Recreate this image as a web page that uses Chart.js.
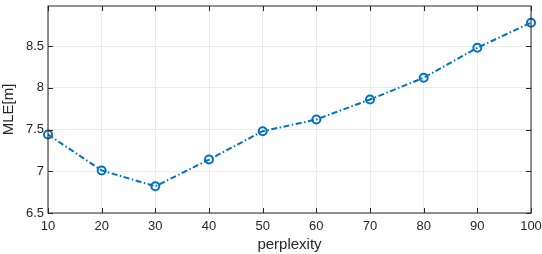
<!DOCTYPE html>
<html>
<head>
<meta charset="utf-8">
<script src="https://cdn.jsdelivr.net/npm/chart.js@4"></script>
<style>
  html, body { margin: 0; padding: 0; background: #fff; }
  #wrap { width: 542px; height: 254px; }
</style>
</head>
<body>
<div id="wrap"><canvas id="c" width="542" height="254"></canvas></div>
<script>
// perplexity sweep vs. mean localisation error
const PERPLEXITY = [10, 20, 30, 40, 50, 60, 70, 80, 90, 100];
const MLE = [7.44, 7.01, 6.82, 7.14, 7.48, 7.62, 7.86, 8.12, 8.48, 8.78];
const X_TICKS = [10, 20, 30, 40, 50, 60, 70, 80, 90, 100];
const Y_TICKS = [6.5, 7, 7.5, 8, 8.5];

const AXIS = '#262626';
const GRID = '#ebebeb';
const BLUE = '#0072BD';
const FONT = '"Liberation Sans", Arial, sans-serif';

// matlab-style box with inward ticks on all four sides
const boxPlugin = {
  id: 'box',
  afterDatasetsDraw(chart) {
    const { ctx, chartArea: a, scales } = chart;
    const len = 5;
    ctx.save();
    ctx.strokeStyle = AXIS;
    ctx.lineWidth = 1;
    ctx.beginPath();
    X_TICKS.forEach(v => {
      const x = Math.round(scales.x.getPixelForValue(v)) + 0.5;
      ctx.moveTo(x, a.bottom); ctx.lineTo(x, a.bottom - len);
      ctx.moveTo(x, a.top); ctx.lineTo(x, a.top + len);
    });
    Y_TICKS.forEach(v => {
      const y = Math.round(scales.y.getPixelForValue(v)) + 0.5;
      ctx.moveTo(a.left, y); ctx.lineTo(a.left + len, y);
      ctx.moveTo(a.right, y); ctx.lineTo(a.right - len, y);
    });
    ctx.stroke();
    ctx.strokeRect(a.left, a.top, a.right - a.left, a.bottom - a.top);
    ctx.restore();
  }
};

new Chart(document.getElementById('c'), {
  type: 'line',
  data: {
    datasets: [{
      data: PERPLEXITY.map((p, i) => ({ x: p, y: MLE[i] })),
      borderColor: BLUE,
      borderWidth: 2,
      borderDash: [6, 2.5, 1.5, 2.5],
      pointRadius: 4,
      pointBorderWidth: 2,
      pointBorderColor: BLUE,
      pointBackgroundColor: 'rgba(0,0,0,0)',
      tension: 0,
      clip: false,
    }]
  },
  options: {
    responsive: false,
    animation: false,
    layout: { padding: { top: 2, right: 11, left: 0, bottom: 0 } },
    plugins: { legend: { display: false }, tooltip: { enabled: false } },
    scales: {
      x: {
        type: 'linear',
        min: 10, max: 100,
        afterBuildTicks: s => { s.ticks = X_TICKS.map(v => ({ value: v })); },
        afterFit: s => { s.height = 41; s.paddingLeft = 0; s.paddingRight = 0; },
        grid: { color: GRID, drawTicks: false },
        border: { display: false },
        ticks: { color: AXIS, font: { family: FONT, size: 13 }, padding: 6, maxRotation: 0 },
        title: { display: true, text: 'perplexity', color: AXIS, font: { family: FONT, size: 15 }, padding: { top: 1, bottom: 0 } }
      },
      y: {
        min: 6.5, max: 8.98,
        afterBuildTicks: s => { s.ticks = Y_TICKS.map(v => ({ value: v })); },
        afterFit: s => { s.width = 48; s.paddingTop = 0; s.paddingBottom = 0; },
        grid: { color: GRID, drawTicks: false },
        border: { display: false },
        ticks: { color: AXIS, font: { family: FONT, size: 13 }, padding: 4, callback: v => String(v) },
        title: { display: true, text: 'MLE[m]', color: AXIS, font: { family: FONT, size: 15 }, padding: { top: 0, bottom: 4 } }
      }
    }
  },
  plugins: [boxPlugin]
});
</script>
</body>
</html>
